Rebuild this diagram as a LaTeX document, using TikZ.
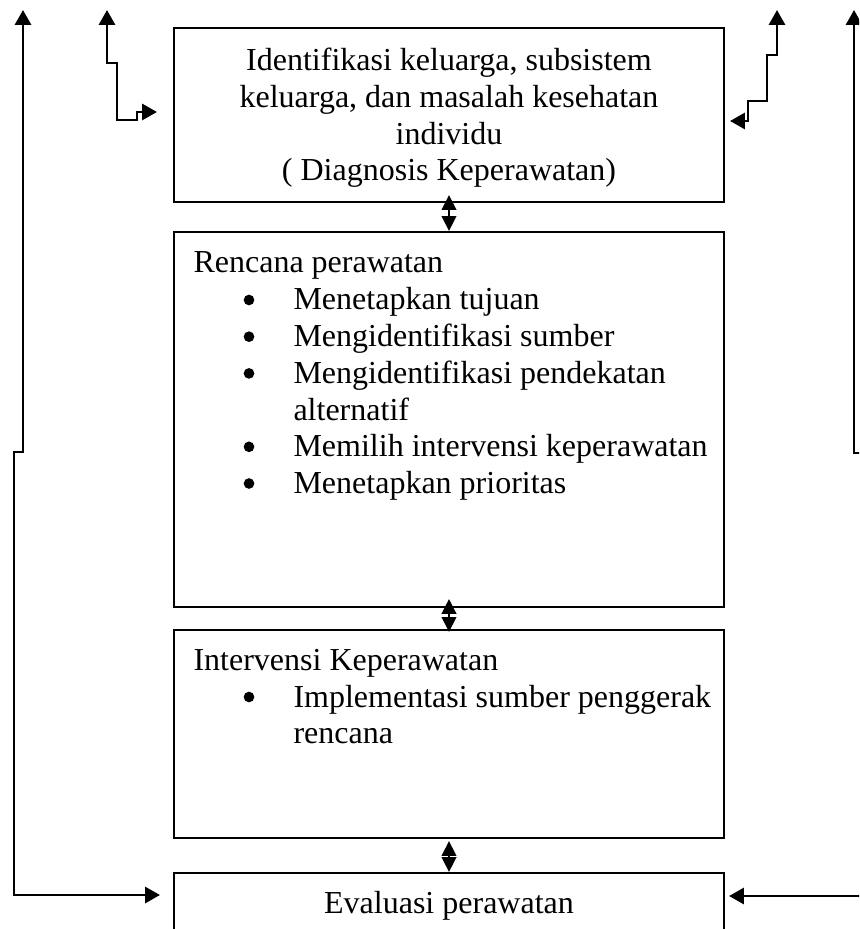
\documentclass[tikz,border=0pt]{standalone}
\usepackage{fontspec}
\setmainfont{Liberation Serif}
\usetikzlibrary{arrows.meta}
\begin{document}
\begin{tikzpicture}[x=0.375pt,y=-0.375pt,
  box/.style={draw, line width=0.75pt, minimum width=206.25pt, inner sep=0pt},
  txt/.style={inner sep=0pt, font=\fontsize{12}{14}\selectfont},
  bul/.style={circle, fill, inner sep=0pt, minimum size=4pt},
  conn/.style={line width=1.1pt, {Triangle[length=5.6pt,width=6pt]}-{Triangle[length=5.6pt,width=6pt]}},
  dbl/.style={line width=1pt, {Triangle[length=5.6pt,width=5.4pt]}-{Triangle[length=5.6pt,width=5.4pt]}}]
\clip (0,0) rectangle (859,929);
\useasboundingbox (0,0) rectangle (859,929);
% boxes
\node[box, minimum height=65.25pt] (b1) at (449,115) {};
\node[box, minimum height=140.625pt] (b2) at (449,419.5) {};
\node[box, minimum height=78pt] (b3) at (449,734) {};
\node[box, minimum height=32.625pt] (b4) at (449,916.5) {};
% box 1 text
\node[txt, anchor=base] (t11) at (449,71) {Identifikasi keluarga, subsistem};
\node[txt, anchor=base] (t12) at (449,107.7) {keluarga, dan masalah kesehatan};
\node[txt, anchor=base] (t13) at (449,144.3) {individu};
\node[txt, anchor=base] (t14) at (449,181) {( Diagnosis Keperawatan)};
% box 2 text
\node[txt, anchor=base west] (t20) at (193,273) {Rencana perawatan};
\foreach \y/\t [count=\i] in {310/Menetapkan tujuan, 346.7/Mengidentifikasi sumber, 383.4/Mengidentifikasi pendekatan, 456.8/Memilih intervensi keperawatan, 493.5/Menetapkan prioritas}{
  \node[bul] (bu\i) at (249,\y-10) {};
  \node[txt, anchor=base west] (tb\i) at (293,\y) {\t};
}
\node[txt, anchor=base west] (t2a) at (293,420.1) {alternatif};
% box 3 text
\node[txt, anchor=base west] (t30) at (193,670) {Intervensi Keperawatan};
\node[bul] (bu6) at (249,697) {};
\node[txt, anchor=base west] (t31) at (293,707) {Implementasi sumber penggerak};
\node[txt, anchor=base west] (t32) at (293,743.5) {rencana};
% box 4 text
\node[txt, anchor=base] (t40) at (449,913) {Evaluasi perawatan};
% double arrows between boxes
\draw[dbl] ([yshift=3pt]b1.south) -- (b2.north);
\draw[dbl] ([yshift=3.4pt]b2.south) -- ([yshift=-1.1pt]b3.north);
\draw[dbl] ([yshift=-0.75pt]b3.south) -- (b4.north);
% end coordinates
\coordinate (lt) at (23,10);
\coordinate (le) at (160,895);
\coordinate (rt) at (854,10);
\coordinate (re) at (729,896);
\coordinate (slt) at (107,10);
\coordinate (sle) at (157,112);
\coordinate (srt) at (777,10);
\coordinate (sre) at (730,121);
% long feedback connectors
\draw[conn] (lt) -- (23,452) -- (14,452) -- (14,895) -- (le);
\draw[conn] (rt) -- (854,453) -- (866,453) -- (866,896) -- (re);
% small stepped connectors
\draw[conn] (slt) -- (107,63) -- (117,63) -- (117,120) -- (137,120) -- (137,112) -- (sle);
\draw[conn] (srt) -- (777,55) -- (767,55) -- (767,101) -- (748,101) -- (748,121) -- (sre);
\end{tikzpicture}
\end{document}
